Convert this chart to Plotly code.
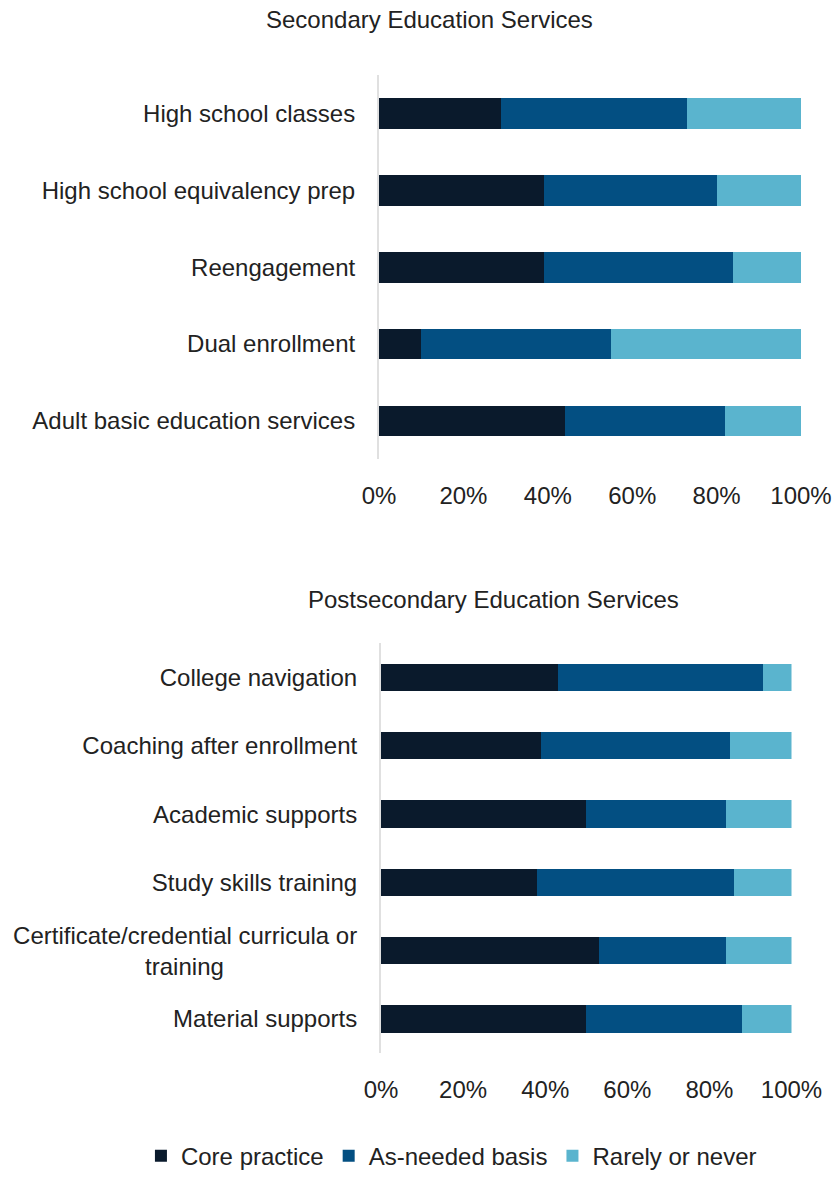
import plotly.graph_objects as go

# Secondary education services (share of programs, %)
sec_categories = [
    "High school classes",
    "High school equivalency prep",
    "Reengagement",
    "Dual enrollment",
    "Adult basic education services",
]
sec_core = [29, 39, 39, 10, 44]
sec_asneeded = [44, 41, 45, 45, 38]
sec_rarely = [27, 20, 16, 45, 18]

# Postsecondary education services (share of programs, %)
post_categories = [
    "College navigation",
    "Coaching after enrollment",
    "Academic supports",
    "Study skills training",
    "Certificate/credential curricula or<br>training",
    "Material supports",
]
post_core = [43, 39, 50, 38, 53, 50]
post_asneeded = [50, 46, 34, 48, 31, 38]
post_rarely = [7, 15, 16, 14, 16, 12]

series_names = ["Core practice", "As-needed basis", "Rarely or never"]
series_colors = ["#0a1a2c", "#034f82", "#5ab4ce"]

tick_vals = [0, 20, 40, 60, 80, 100]
tick_text = ["0%", "20%", "40%", "60%", "80%", "100%"]

FONT = "Liberation Sans, Arial, Helvetica, sans-serif"
TEXT = "#222222"
FS = 24

# Center the wrapped second line under the first one
nb = "\u00a0"
post_labels = [
    c.replace("<br>training", "<br>training" + nb * 20) for c in post_categories
]

fig = go.Figure()

sec_vals = [sec_core, sec_asneeded, sec_rarely]
post_vals = [post_core, post_asneeded, post_rarely]

for name, color, vals in zip(series_names, series_colors, sec_vals):
    fig.add_trace(go.Bar(
        x=vals, y=sec_categories, orientation="h", name=name,
        marker=dict(color=color, line=dict(width=0)),
        xaxis="x", yaxis="y", legendgroup=name, showlegend=True,
        hovertemplate="%{y}: %{x}%<extra>" + name + "</extra>",
    ))

for name, color, vals in zip(series_names, series_colors, post_vals):
    fig.add_trace(go.Bar(
        x=vals, y=post_labels, orientation="h", name=name,
        marker=dict(color=color, line=dict(width=0)),
        xaxis="x2", yaxis="y2", legendgroup=name, showlegend=False,
        hovertemplate="%{y}: %{x}%<extra>" + name + "</extra>",
    ))

W, H = 836, 1179

def px_x(p):
    return p / W

def px_y(p):
    return 1 - p / H

xaxis_common = dict(
    range=[0, 100], tickvals=tick_vals, ticktext=tick_text,
    showgrid=False, zeroline=False, showline=False, ticks="",
    automargin=False,
    ticklabelstandoff=20, tickfont=dict(size=FS, color=TEXT, family=FONT),
    fixedrange=True,
)
yaxis_common = dict(
    autorange="reversed", showgrid=False, zeroline=False,
    showline=True, linecolor="#e0e0e0", linewidth=2, ticks="",
    automargin=False,
    ticklabelstandoff=17, tickfont=dict(size=FS, color=TEXT, family=FONT),
    fixedrange=True,
)

fig.update_layout(
    width=W, height=H,
    margin=dict(l=0, r=0, t=0, b=0),
    paper_bgcolor="white", plot_bgcolor="white",
    barmode="stack", bargap=0.6,
    font=dict(family=FONT, color=TEXT, size=FS),
    xaxis=dict(domain=[px_x(379), px_x(801)], anchor="y", **xaxis_common),
    yaxis=dict(domain=[px_y(464), px_y(76)], anchor="x", **yaxis_common),
    xaxis2=dict(domain=[px_x(381), px_x(791.5)], anchor="y2", **xaxis_common),
    yaxis2=dict(domain=[px_y(1064), px_y(650)], anchor="x2", **yaxis_common),
    legend=dict(
        orientation="h", x=0.54, xanchor="center", y=px_y(1168), yanchor="middle",
        font=dict(size=FS, color=TEXT, family=FONT), traceorder="normal",
    ),
    annotations=[
        dict(text="Secondary Education Services", x=px_x(429), y=px_y(20),
             xref="paper", yref="paper", xanchor="center", yanchor="middle",
             showarrow=False, font=dict(size=FS, color=TEXT, family=FONT)),
        dict(text="Postsecondary Education Services", x=px_x(493), y=px_y(606),
             xref="paper", yref="paper", xanchor="center", yanchor="middle",
             showarrow=False, font=dict(size=FS, color=TEXT, family=FONT)),
    ],
)

fig.write_html("out.html")
